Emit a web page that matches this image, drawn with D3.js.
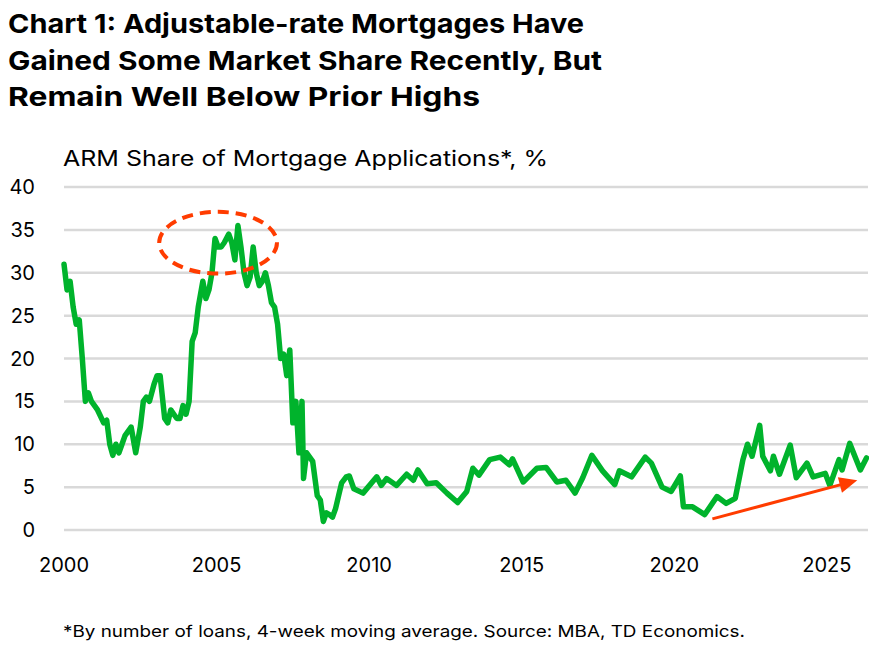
<!DOCTYPE html>
<html><head><meta charset="utf-8">
<script src="https://cdn.jsdelivr.net/npm/d3@7"></script>
<style>body{margin:0;background:#fff;font-family:Inter,"Noto Sans",sans-serif}</style>
</head><body><svg id="c" width="869" height="649"></svg>
<script>
const titleLines=["Chart 1: Adjustable-rate Mortgages Have","Gained Some Market Share Recently, But","Remain Well Below Prior Highs"];
const yLabel="ARM Share of Mortgage Applications*, %";
const footnote="*By number of loans, 4-week moving average. Source: MBA, TD Economics.";
const yTicks=[0,5,10,15,20,25,30,35,40];
const xTicks=[2000,2005,2010,2015,2020,2025];
const years=[2000.0,2000.1,2000.2,2000.3,2000.4,2000.5,2000.6,2000.7,2000.8,2000.9,2001.1,2001.3,2001.4,2001.5,2001.6,2001.7,2001.8,2001.9,2002.0,2002.2,2002.35,2002.5,2002.6,2002.7,2002.8,2002.95,2003.05,2003.15,2003.3,2003.4,2003.5,2003.6,2003.7,2003.8,2003.9,2004.0,2004.1,2004.2,2004.3,2004.4,2004.55,2004.65,2004.75,2004.85,2004.95,2005.05,2005.15,2005.25,2005.4,2005.5,2005.6,2005.7,2005.8,2005.9,2006.0,2006.1,2006.2,2006.3,2006.4,2006.5,2006.6,2006.7,2006.8,2006.9,2007.0,2007.1,2007.2,2007.3,2007.4,2007.5,2007.6,2007.7,2007.8,2007.85,2007.95,2008.05,2008.15,2008.3,2008.4,2008.5,2008.6,2008.7,2008.8,2008.9,2009.0,2009.1,2009.25,2009.35,2009.5,2009.8,2010.25,2010.4,2010.57,2010.9,2011.23,2011.45,2011.6,2011.9,2012.2,2012.55,2012.9,2013.2,2013.4,2013.6,2013.95,2014.3,2014.6,2014.7,2015.05,2015.5,2015.8,2016.15,2016.45,2016.75,2017.0,2017.3,2017.65,2018.05,2018.2,2018.6,2019.05,2019.25,2019.6,2019.9,2020.2,2020.3,2020.6,2021.0,2021.4,2021.7,2022.0,2022.25,2022.4,2022.55,2022.8,2022.9,2023.15,2023.25,2023.45,2023.8,2024.0,2024.35,2024.55,2024.95,2025.1,2025.4,2025.5,2025.75,2026.1,2026.3];
const armShare=[31,28,29,26,24,24.5,20,15,16,15,14,12.5,12.8,10,8.7,10,9,10,11,12,9,12,15,15.5,15,17,18,18,13,12.5,14,13.5,13,13,14.5,13.5,15,22,23,26,29,27,28,30,34,33,33,33.5,34.5,33.5,31.5,35.5,33,30,28.5,29.5,33,30,28.5,29,30,28.5,26.5,26,24,20,20.5,18,21,12.5,15,9,15,6,9,8.5,8,4,3.5,1,2,1.8,1.5,2.5,4,5.5,6.2,6.3,4.8,4.3,6.2,5.2,6.0,5.2,6.5,5.8,7.0,5.4,5.5,4.3,3.2,4.5,7.2,6.4,8.2,8.5,7.6,8.3,5.6,7.2,7.3,5.6,5.8,4.3,6.1,8.7,6.9,5.3,6.9,6.2,8.5,7.8,5.0,4.5,6.3,2.7,2.7,1.8,3.9,3.1,3.7,8.2,10,8.6,12.2,8.6,6.9,8.6,6.5,9.9,6.1,7.8,6.2,6.6,5.2,8.2,7.0,10.1,7.0,8.4];
const circleAnn={year:2005.05,value:33.5,ryears:1.93,rvalue:3.6};
const arrowAnn={y0:2021.25,v0:1.3,y1:2026.0,v1:5.8};

const svg=d3.select("#c");
const x=d3.scaleLinear().domain([2000,2026.35]).range([64,868]);
const y=d3.scaleLinear().domain([0,40]).range([530,187]);
const red="#ff3c00";
const titleW=[576,594,472];
svg.append("g").selectAll("text").data(titleLines).join("text")
 .attr("x",8).attr("y",(d,i)=>33+i*36.5).attr("font-size",26).attr("font-weight",700).attr("fill","#000")
 .attr("textLength",(d,i)=>titleW[i]).attr("lengthAdjust","spacingAndGlyphs").text(d=>d);
svg.append("text").attr("x",63).attr("y",166).attr("font-size",21).attr("textLength",485).attr("lengthAdjust","spacingAndGlyphs").text(yLabel);
svg.append("g").selectAll("line").data(yTicks).join("line")
 .attr("x1",64).attr("x2",868).attr("y1",d=>y(d)).attr("y2",d=>y(d)).attr("stroke","#d9d9d9").attr("stroke-width",2.5);
svg.append("g").selectAll("text").data(yTicks).join("text")
 .attr("x",35).attr("y",d=>y(d)+7).attr("text-anchor","end").attr("font-size",20).text(d=>d);
svg.append("g").selectAll("text").data(xTicks).join("text")
 .attr("x",d=>x(d)).attr("y",572).attr("text-anchor","middle").attr("font-size",20).text(d=>d);
const data=years.map((t,i)=>[t,armShare[i]]);
svg.append("path").datum(data).attr("fill","none").attr("stroke","#00b32c").attr("stroke-width",5.5)
 .attr("stroke-linejoin","round").attr("stroke-linecap","round")
 .attr("d",d3.line().x(d=>x(d[0])).y(d=>y(d[1])));
svg.append("ellipse").attr("cx",x(circleAnn.year)).attr("cy",y(circleAnn.value))
 .attr("rx",x(2000+circleAnn.ryears)-x(2000)).attr("ry",y(0)-y(circleAnn.rvalue))
 .attr("fill","none").attr("stroke",red).attr("stroke-width",4).attr("stroke-dasharray","11,7");
const ax0=x(arrowAnn.y0),ay0=y(arrowAnn.v0),ax1=x(arrowAnn.y1),ay1=y(arrowAnn.v1);
const ang=Math.atan2(ay1-ay0,ax1-ax0);
svg.append("line").attr("x1",ax0).attr("y1",ay0).attr("x2",ax1-12*Math.cos(ang)).attr("y2",ay1-12*Math.sin(ang)).attr("stroke",red).attr("stroke-width",3);
const hl=18,hw=8;
const p=[[ax1,ay1],[ax1-hl*Math.cos(ang)+hw*Math.sin(ang),ay1-hl*Math.sin(ang)-hw*Math.cos(ang)],[ax1-hl*Math.cos(ang)-hw*Math.sin(ang),ay1-hl*Math.sin(ang)+hw*Math.cos(ang)]];
svg.append("polygon").attr("points",p.map(q=>q.join(",")).join(" ")).attr("fill",red);
svg.append("text").attr("x",63).attr("y",637).attr("font-size",16.5).attr("textLength",682).attr("lengthAdjust","spacingAndGlyphs").text(footnote);
</script></body></html>
